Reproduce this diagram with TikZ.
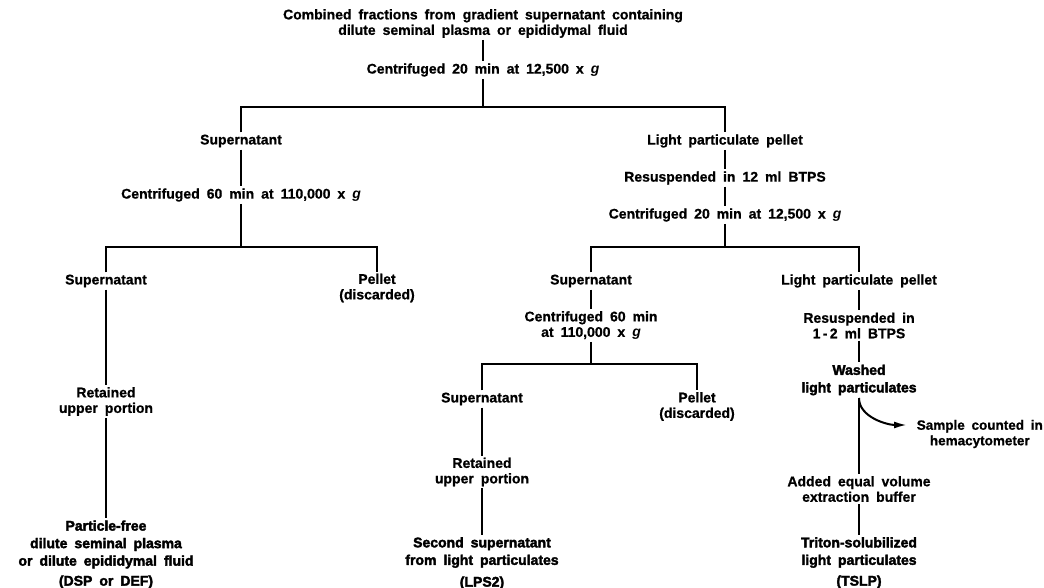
\documentclass[tikz,border=0pt]{standalone}
\usepackage{fontspec}
\setmainfont{Liberation Sans}[WordSpace=1.8, BoldFeatures={FakeBold=0.8}]
\newfontfamily\heavyfont{Liberation Sans}[WordSpace=1.8, BoldFeatures={FakeBold=2.5}]
\usetikzlibrary{arrows.meta}
\tikzset{
  lbl/.style={font=\bfseries\fontsize{14}{15.5}\selectfont, align=center, inner sep=2pt},
  fin/.style={font=\heavyfont\bfseries\fontsize{14}{17.5}\selectfont, align=center, inner sep=2pt},
  conn/.style={line width=2pt},
  arr/.style={line width=2pt, -{Latex[length=13pt,width=7pt]}},
}
\begin{document}
\begin{tikzpicture}[x=1pt,y=-1pt]
\useasboundingbox (0,0) rectangle (1044,588);
% top
\node[lbl] (top) at (483,23.5) {Combined fractions from gradient supernatant containing\\dilute seminal plasma or epididymal fluid};
\node[lbl] (c1) at (483,70) {Centrifuged 20 min at 12,500 x \textit{g}};
\coordinate (j1) at (483,107);
% left branch
\node[lbl] (sup1) at (241,141) {Supernatant};
\node[lbl] (c2) at (241,195) {Centrifuged 60 min at 110,000 x \textit{g}};
\coordinate (j2) at (241,247);
\node[lbl] (sup2) at (106,281) {Supernatant};
\node[lbl] (pel1) at (377,288) {Pellet\\(discarded)};
\node[lbl] (ret1) at (106,401.5) {Retained\\upper portion};
\node[fin] (pf) at (106,544.5) {Particle-free\\dilute seminal plasma\\or dilute epididymal fluid};
\node[fin] (dsp) at (106,582) {(DSP or DEF)};
% right branch
\node[lbl] (lpp1) at (725,141) {Light particulate pellet};
\node[lbl] (res1) at (725,178) {Resuspended in 12 ml BTPS};
\node[lbl] (c3) at (725,215) {Centrifuged 20 min at 12,500 x \textit{g}};
\coordinate (j3) at (725,247);
\node[lbl] (sup3) at (591,281) {Supernatant};
\node[lbl] (lpp2) at (859,281) {Light particulate pellet};
\node[lbl] (c4) at (591,325.5) {Centrifuged 60 min\\at 110,000 x \textit{g}};
\coordinate (j4) at (591,364);
\node[lbl] (sup4) at (482,399) {Supernatant};
\node[lbl] (pel2) at (697,406.5) {Pellet\\(discarded)};
\node[lbl] (ret2) at (482,472) {Retained\\upper portion};
\node[fin] (lps) at (482,552.5) {Second supernatant\\from light particulates};
\node[fin] (lps2) at (482,583) {(LPS2)};
\node[lbl] (res2) at (859,325.5) {Resuspended in\\1\,-\,2 ml BTPS};
\node[fin] (wash) at (859,380) {Washed\\light particulates};
\node[lbl, font=\bfseries\fontsize{13.5}{15.5}\selectfont, anchor=east, inner sep=1pt] (sample) at (1044,434) {Sample counted in\\hemacytometer};
\node[lbl] (added) at (859,489) {Added equal volume\\extraction buffer};
\node[fin] (tri) at (859,552.5) {Triton-solubilized\\light particulates};
\node[fin] (tslp) at (859,582) {(TSLP)};
\coordinate (cs) at (859,398);
\coordinate (tip) at (907,425);
% connectors
\draw[conn] (top) -- (c1);
\draw[conn] (c1) -- (j1);
\draw[conn] (sup1) |- (j1) -| (lpp1);
\draw[conn] (sup1) -- (c2);
\draw[conn] (c2) -- (j2);
\draw[conn] (sup2) |- (j2) -| (pel1);
\draw[conn] (sup2) -- (ret1);
\draw[conn] (ret1) -- (pf);
\draw[conn] (lpp1) -- (res1);
\draw[conn] (res1) -- (c3);
\draw[conn] (c3) -- (j3);
\draw[conn] (sup3) |- (j3) -| (lpp2);
\draw[conn] (sup3) -- (c4);
\draw[conn] (c4) -- (j4);
\draw[conn] (sup4) |- (j4) -| (pel2);
\draw[conn] (sup4) -- (ret2);
\draw[conn] (ret2) -- (lps);
\draw[conn] (lpp2) -- (res2);
\draw[conn] (res2) -- (wash);
\draw[conn] (wash) -- (added);
\draw[conn] (added) -- (tri);
\draw[arr] (cs) to[out=-90,in=180,looseness=0.9] (tip);
\end{tikzpicture}
\end{document}
